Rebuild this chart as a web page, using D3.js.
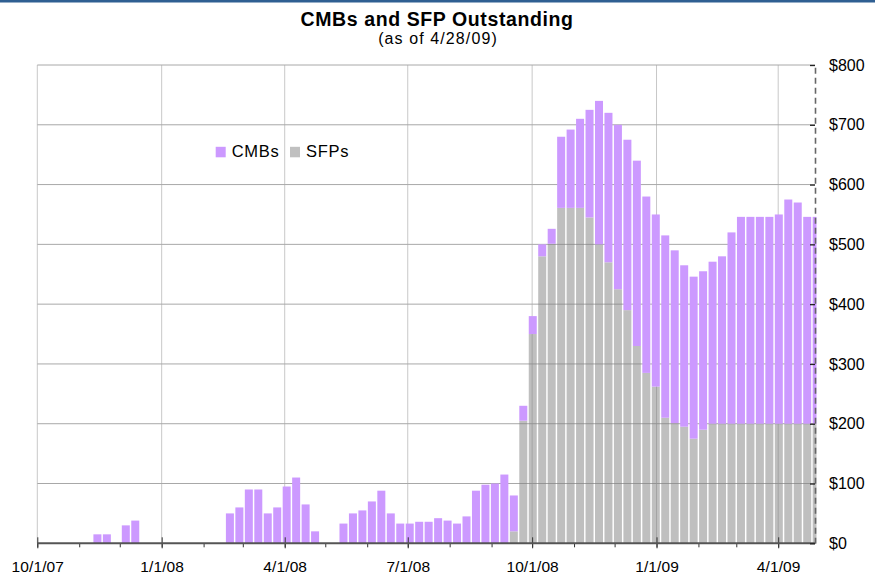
<!DOCTYPE html>
<html>
<head>
<meta charset="utf-8">
<script src="https://cdn.jsdelivr.net/npm/d3@7"></script>
<style>
    body { margin: 0; background: #fff; }
    text { font-family: "Liberation Sans", Arial, sans-serif; fill: #000; }
</style>
</head>
<body>
<script>
//weekly values, one per week starting Monday 10/1/07 (in $ billions)
var firstWeek = new Date(2007, 9, 1);
var lastDay = new Date(2009, 3, 28);

//CMBs outstanding (stacked on top of SFPs)
var cmb = [
    0, 0, 0, 0, 0, 0, 15, 15, 0, 30,
    38, 0, 0, 0, 0, 0, 0, 0, 0, 0,
    50, 60, 90, 90, 50, 60, 95, 110, 65, 20,
    0, 0, 33, 50, 55, 70, 88, 50, 33, 33,
    36, 36, 42, 38, 33, 45, 88, 98, 100, 115,
    60, 25, 30, 20, 25, 119, 131, 149, 180, 240,
    250, 275, 285, 310, 295, 288, 305, 289, 270, 271,
    265, 271, 280, 320, 346, 346, 346, 346, 350, 375,
    370, 346, 346
];

//SFPs outstanding
var sfp = [
    0, 0, 0, 0, 0, 0, 0, 0, 0, 0,
    0, 0, 0, 0, 0, 0, 0, 0, 0, 0,
    0, 0, 0, 0, 0, 0, 0, 0, 0, 0,
    0, 0, 0, 0, 0, 0, 0, 0, 0, 0,
    0, 0, 0, 0, 0, 0, 0, 0, 0, 0,
    20, 205, 350, 480, 501, 561, 561, 561, 545, 500,
    470, 425, 390, 330, 285, 262, 210, 201, 195, 175,
    190, 200, 200, 200, 200, 200, 200, 200, 200, 200,
    200, 200, 200
];

//axis ticks
var yTicks = [0, 100, 200, 300, 400, 500, 600, 700, 800];
var quarterTicks = [
    new Date(2007, 9, 1), new Date(2008, 0, 1), new Date(2008, 3, 1),
    new Date(2008, 6, 1), new Date(2008, 9, 1), new Date(2009, 0, 1),
    new Date(2009, 3, 1)
];
var seriesNames = ["CMBs", "SFPs"];

window.onload = function(){

    var w = 875, h = 577;
    var colors = { cmb: "#CC99FF", sfp: "#C0C0C0" };

    var svg = d3.select("body")
        .append("svg")
        .attr("width", w)
        .attr("height", h);

    //blue strip along the top edge
    svg.append("rect")
        .attr("x", 0).attr("y", 0)
        .attr("width", w).attr("height", 2.5)
        .style("fill", "#2F5F92");

    //scales
    var x = d3.scaleTime()
        .domain([firstWeek, lastDay])
        .range([37.3, 814.7]);

    var y = d3.scaleLinear()
        .domain([0, 800])
        .range([543.3, 65]);

    //build a table for the stack generator
    var table = cmb.map(function(d, i){
        return { week: d3.timeDay.offset(firstWeek, i * 7), cmb: d, sfp: sfp[i] };
    });
    var stacked = d3.stack().keys(["sfp", "cmb"])(table);

    //vertical gridlines at each quarter
    svg.append("g")
        .selectAll("line")
        .data(quarterTicks)
        .enter()
        .append("line")
        .attr("x1", function(d){ return x(d); })
        .attr("x2", function(d){ return x(d); })
        .attr("y1", y(800))
        .attr("y2", y(0))
        .style("stroke", "#C8C8C8")
        .style("stroke-width", 1);

    //horizontal gridlines
    svg.append("g")
        .selectAll("line")
        .data(yTicks.slice(1))
        .enter()
        .append("line")
        .attr("x1", x.range()[0])
        .attr("x2", 815)
        .attr("y1", function(d){ return y(d); })
        .attr("y2", function(d){ return y(d); })
        .style("stroke", "#A8A8A8")
        .style("stroke-width", 1);

    //clip bars at the right axis
    svg.append("clipPath")
        .attr("id", "plotClip")
        .append("rect")
        .attr("x", 30).attr("y", 60)
        .attr("width", 816.5 - 30).attr("height", 490);

    //bars: each week covers Monday to Friday
    var layers = svg.append("g")
        .attr("clip-path", "url(#plotClip)")
        .selectAll("g")
        .data(stacked)
        .enter()
        .append("g")
        .style("fill", function(d){ return d.key == "sfp" ? "#808080" : colors.cmb; })
        .style("fill-opacity", function(d){ return d.key == "sfp" ? 0.5 : 1; });

    layers.selectAll("rect")
        .data(function(d){ return d.filter(function(s){ return s[1] - s[0] > 0; }); })
        .enter()
        .append("rect")
        .attr("x", function(d){ return x(d3.timeHour.offset(d.data.week, -12)); })
        .attr("width", function(d){
            return x(d3.timeHour.offset(d.data.week, 130)) - x(d3.timeHour.offset(d.data.week, -12));
        })
        .attr("y", function(d){ return y(d[1]); })
        .attr("height", function(d){ return y(d[0]) - y(d[1]); });

    //bottom axis: monthly minor ticks
    var minor = d3.axisBottom(x)
        .ticks(d3.timeMonth.every(1))
        .tickSize(4)
        .tickSizeOuter(0)
        .tickFormat("");
    var minorG = svg.append("g")
        .attr("transform", "translate(0," + y(0) + ")")
        .call(minor);
    minorG.select(".domain").remove();
    minorG.selectAll("line").style("stroke", "#333");

    //bottom axis: quarter ticks with labels
    var xAxis = d3.axisBottom(x)
        .tickValues(quarterTicks)
        .tickSize(5)
        .tickSizeOuter(0)
        .tickPadding(13)
        .tickFormat(d3.timeFormat("%-m/%-d/%y"));
    var xG = svg.append("g")
        .attr("transform", "translate(0," + y(0) + ")")
        .call(xAxis);
    xG.select(".domain").remove();
    xG.selectAll("line")
        .attr("y1", -6)
        .style("stroke", "#333");
    xG.selectAll("text")
        .style("font-size", "15.5px")
        .style("letter-spacing", "0.1px")
        .style("fill", "#000");

    //axis line
    svg.append("line")
        .attr("x1", x.range()[0])
        .attr("x2", 815)
        .attr("y1", y(0))
        .attr("y2", y(0))
        .style("stroke", "#555")
        .style("stroke-width", 2);

    //right value axis with dashed line
    var yAxis = d3.axisRight(y)
        .tickValues(yTicks)
        .tickSize(-5)
        .tickSizeOuter(0)
        .tickPadding(14)
        .tickFormat(function(d){ return "$" + d; });
    var yG = svg.append("g")
        .attr("transform", "translate(815,0)")
        .call(yAxis);
    yG.select(".domain")
        .style("stroke", "#666")
        .style("stroke-width", 1.6)
        .style("stroke-dasharray", "6,4");
    yG.selectAll("line").style("stroke", "#222").style("stroke-width", 1.3);
    yG.selectAll("text")
        .style("font-size", "16px")
        .style("fill", "#000");

    //title
    svg.append("text")
        .attr("x", 437)
        .attr("y", 26)
        .attr("text-anchor", "middle")
        .style("font-size", "19.5px")
        .style("font-weight", "bold")
        .style("letter-spacing", "0.6px")
        .text("CMBs and SFP Outstanding");

    svg.append("text")
        .attr("x", 438)
        .attr("y", 44)
        .attr("text-anchor", "middle")
        .style("font-size", "16px")
        .style("letter-spacing", "1.1px")
        .text("(as of 4/28/09)");

    //legend
    var legend = svg.append("g")
        .selectAll("g")
        .data(seriesNames)
        .enter()
        .append("g")
        .attr("transform", function(d, i){ return "translate(" + (215.7 + i * 74.3) + ",0)"; });

    legend.append("rect")
        .attr("x", 0)
        .attr("y", 146.8)
        .attr("width", 10)
        .attr("height", 10.5)
        .style("fill", function(d, i){ return i == 0 ? colors.cmb : colors.sfp; });

    legend.append("text")
        .attr("x", 16)
        .attr("y", 157.3)
        .style("font-size", "16.5px")
        .style("letter-spacing", "0.7px")
        .text(function(d){ return d; });
};
</script>
</body>
</html>
